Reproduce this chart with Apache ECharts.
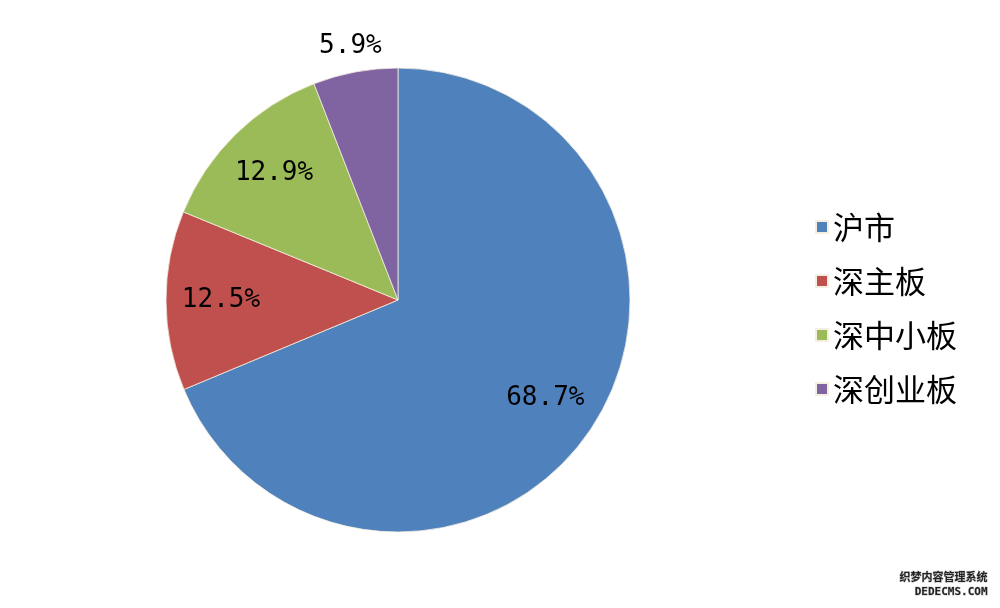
<!DOCTYPE html>
<html><head><meta charset="utf-8">
<script src="https://cdn.jsdelivr.net/npm/echarts@6/dist/echarts.min.js"></script>
<style>html,body{margin:0;padding:0;background:#fff}#c{width:1000px;height:608px}</style>
</head><body><div id="c"></div>
<script>
const categories = ['沪市', '深主板', '深中小板', '深创业板'];
const values = [68.7, 12.5, 12.9, 5.9];
const labelTexts = ['68.7%', '12.5%', '12.9%', '5.9%'];
const outsideLabel = [false, false, false, true];
const colors = ['#4F81BD', '#C0504D', '#9BBB59', '#8064A2'];

const center = [398, 300];
const R = 232;
const labelFont = {fontFamily: 'DejaVu Sans Mono', fontSize: 26, color: '#000'};

const baseData = categories.map((n, i) => ({name: n, value: values[i]}));
const insideData = categories.map((n, i) => ({
  name: n, value: values[i],
  label: {show: !outsideLabel[i], formatter: labelTexts[i]}
}));
const outerData = categories.map((n, i) => ({
  name: n, value: values[i],
  label: {show: outsideLabel[i], formatter: labelTexts[i]}
}));

const chart = echarts.init(document.getElementById('c'), null, {renderer: 'canvas'});
chart.setOption({
  animation: false,
  color: colors,
  legend: {
    orient: 'vertical', left: 810, top: 206,
    itemWidth: 12, itemHeight: 12, itemGap: 22,
    icon: 'rect',
    data: categories,
    textStyle: {fontFamily: 'Noto Sans CJK SC', fontSize: 31, color: '#000', lineHeight: 32}
  },
  series: [
    {
      type: 'pie', center: center, radius: [0, R], startAngle: 90, clockwise: true,
      label: {show: false}, labelLine: {show: false},
      itemStyle: {borderColor: '#f4efe0', borderWidth: 0.8},
      emphasis: {disabled: true},
      data: baseData
    },
    {
      type: 'pie', center: center, radius: [R * 0.5, R], startAngle: 90, clockwise: true,
      silent: true, legendHoverLink: false,
      itemStyle: {color: 'rgba(0,0,0,0)', borderWidth: 0},
      label: Object.assign({position: 'inside'}, labelFont),
      labelLine: {show: false},
      emphasis: {disabled: true},
      data: insideData
    },
    {
      type: 'pie', center: center, radius: [R, R * 1.2], startAngle: 90, clockwise: true,
      silent: true, legendHoverLink: false,
      itemStyle: {color: 'rgba(0,0,0,0)', borderWidth: 0},
      label: Object.assign({position: 'inside'}, labelFont),
      labelLine: {show: false},
      emphasis: {disabled: true},
      data: outerData
    }
  ],
  graphic: [
    {type: 'text', right: 12, top: 571, style: {text: '织梦内容管理系统', fontFamily: 'Noto Sans CJK SC', fontSize: 11, fontWeight: 'bold', fill: '#222', stroke: '#ccc', lineWidth: 1}},
    {type: 'text', right: 12, top: 586, style: {text: 'DEDECMS.COM', fontFamily: 'DejaVu Sans Mono', fontSize: 11, fontWeight: 'bold', fill: '#222', stroke: '#ccc', lineWidth: 1}}
  ]
});
</script></body></html>
